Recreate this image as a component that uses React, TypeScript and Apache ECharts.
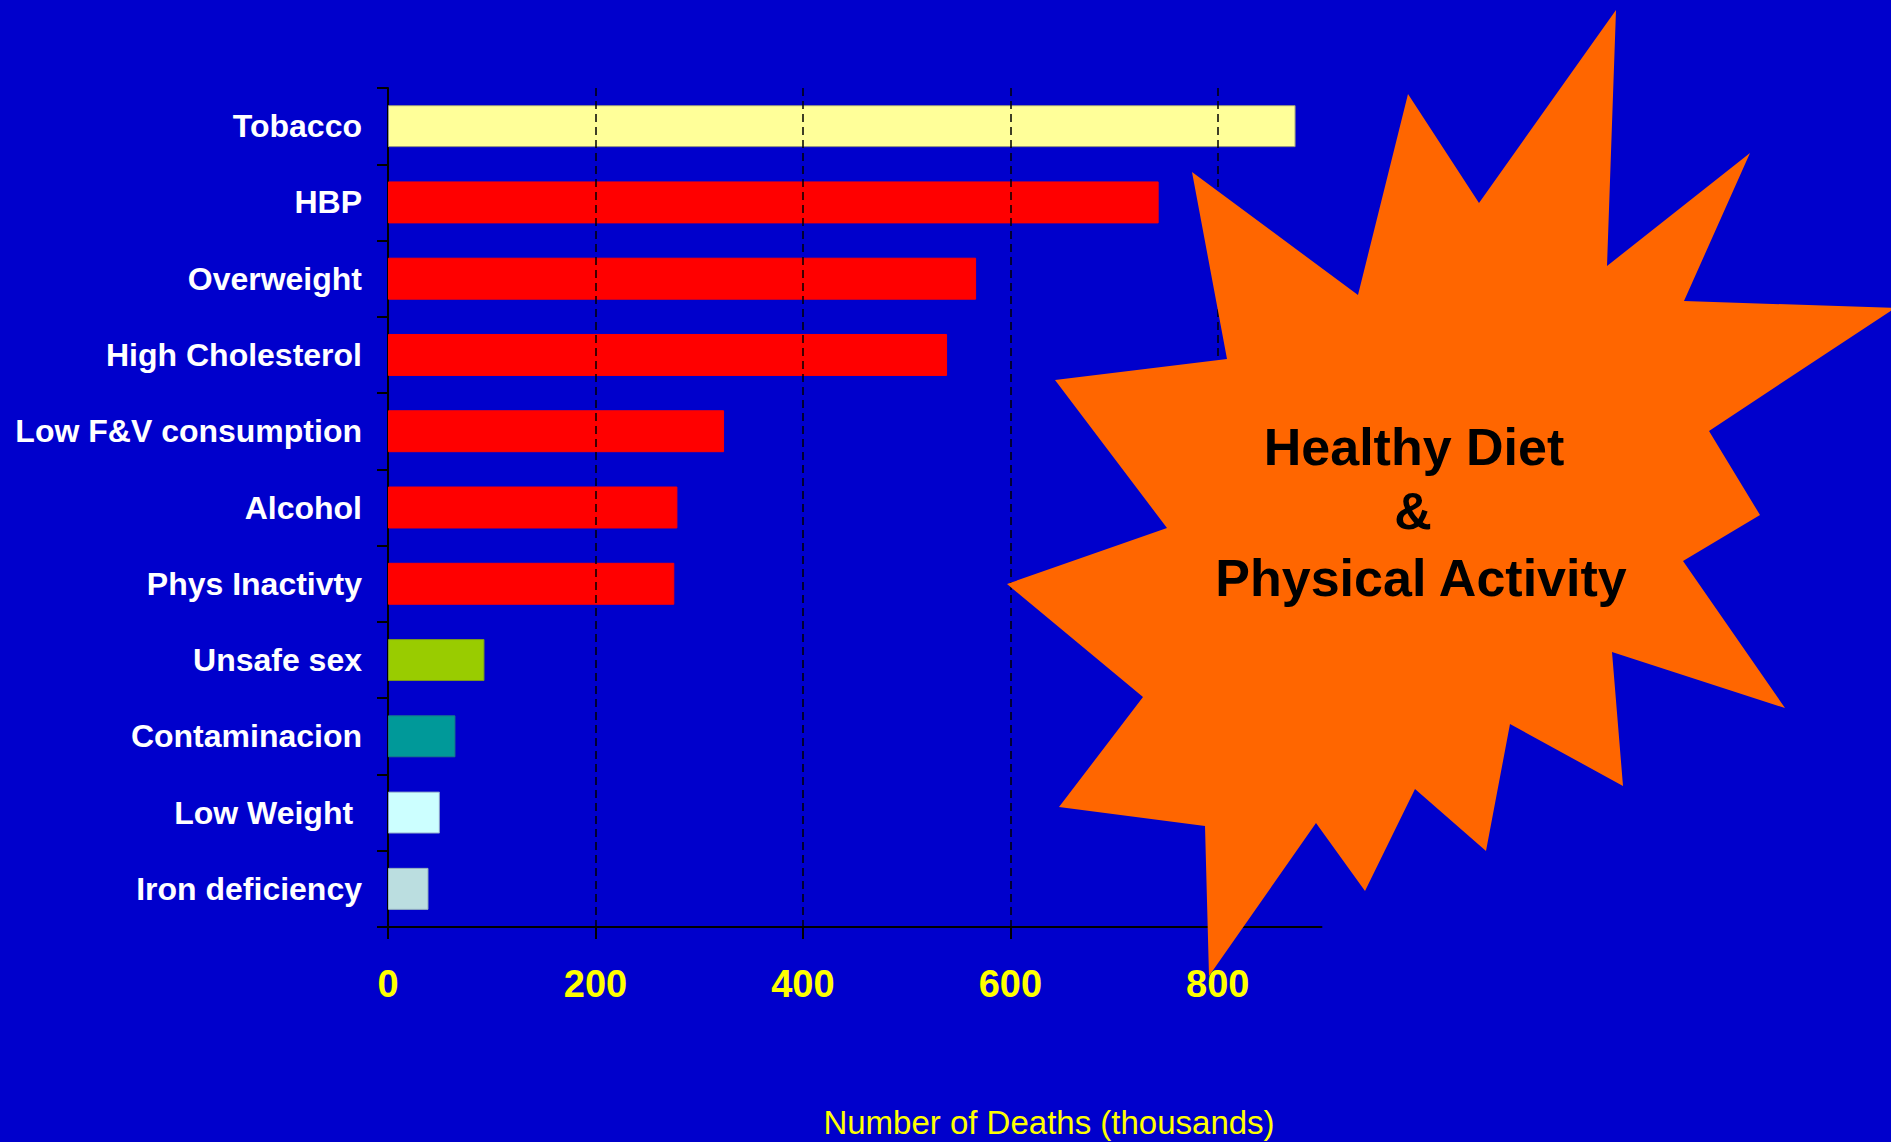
import React, { useEffect, useRef } from 'react';
import * as echarts from 'echarts';

const categories = [
  'Tobacco',
  'HBP',
  'Overweight',
  'High Cholesterol',
  'Low F&V consumption',
  'Alcohol',
  'Phys Inactivty',
  'Unsafe sex',
  'Contaminacion',
  'Low Weight ',
  'Iron deficiency',
];
const deaths = [875, 743, 567, 539, 324, 279, 276, 93, 65, 50, 39];
const barColors = [
  '#FFFF99', '#FF0000', '#FF0000', '#FF0000', '#FF0000', '#FF0000', '#FF0000',
  '#99CC00', '#009999', '#CCFFFF', '#BBDEE0',
];
const barBorders = [
  '#9a9a80', '#FF0000', '#FF0000', '#FF0000', '#FF0000', '#FF0000', '#FF0000',
  '#7a9a20', '#1a7a8a', '#8aa0c8', '#9ab8c0',
];
const xTickValues = [0, 200, 400, 600, 800];
const gridValues = [200, 400, 600, 800];
const axisTitle = 'Number of Deaths (thousands)';
const burstLines = ['Healthy Diet', '&', 'Physical Activity'];

// decorative starburst outline (pixel coordinates of the page)
const burstOutline = [
  [1616, 10], [1607, 266], [1750, 153], [1684, 301], [1895, 308], [1709, 431],
  [1760, 515], [1683, 561], [1785, 708], [1612, 652], [1623, 786], [1510, 724],
  [1486, 851], [1415, 789], [1365, 891], [1316, 823], [1209, 976], [1205, 826],
  [1059, 807], [1143, 697], [1007, 584], [1167, 528], [1055, 380], [1227, 359],
  [1192, 172], [1358, 295], [1408, 94], [1479, 203],
];
const burstTextPos = [[1414, 447], [1413, 511], [1421, 578]];

export default function App() {
  const ref = useRef<HTMLDivElement>(null);
  useEffect(() => {
    if (!ref.current) return;
    const chart = echarts.init(ref.current, null, { renderer: 'svg' });
    const font = '"Liberation Sans", Arial, sans-serif';
    chart.setOption({
      animation: false,
      backgroundColor: '#0000CC',
      grid: { left: 388, top: 88, width: 933.5, height: 839 },
      xAxis: {
        type: 'value',
        min: 0,
        max: 900,
        interval: 200,
        axisLine: { show: true, lineStyle: { color: '#000', width: 2 } },
        axisTick: {
          show: true,
          customValues: xTickValues,
          length: 12,
          lineStyle: { color: '#000', width: 2 },
        },
        axisLabel: {
          customValues: xTickValues,
          color: '#FFFF00',
          fontSize: 38,
          fontWeight: 'bold',
          fontFamily: font,
          margin: 38,
        },
        splitLine: { show: false },
      },
      yAxis: {
        type: 'category',
        inverse: true,
        data: categories,
        axisLine: { show: true, lineStyle: { color: '#000', width: 2 } },
        axisTick: { show: true, length: 11, lineStyle: { color: '#000', width: 2 } },
        axisLabel: {
          color: '#FFFFFF',
          fontSize: 32,
          fontWeight: 'bold',
          fontFamily: font,
          margin: 26,
          lineHeight: 34,
        },
        splitLine: { show: false },
      },
      series: [
        {
          type: 'line',
          data: [],
          z: 1,
          silent: true,
          markLine: {
            silent: true,
            symbol: 'none',
            label: { show: false },
            lineStyle: { color: '#000', type: [8, 5], width: 1.5 },
            data: gridValues.map((v) => ({ xAxis: v })),
          },
        },
        {
          type: 'bar',
          z: 3,
          barWidth: '55%',
          data: deaths.map((v, i) => ({
            value: v,
            itemStyle: { color: barColors[i], borderColor: barBorders[i], borderWidth: 1 },
          })),
        },
      ],
      graphic: [
        {
          type: 'polygon',
          z: 100,
          shape: { points: burstOutline },
          style: { fill: '#FF6600' },
        },
        ...burstLines.map((t, i) => ({
          type: 'text',
          z: 101,
          x: burstTextPos[i][0],
          y: burstTextPos[i][1],
          style: {
            text: t,
            fill: '#000',
            font: `bold 52px ${font}`,
            textAlign: 'center',
            align: 'center',
            textVerticalAlign: 'middle',
            verticalAlign: 'middle',
          },
        })),
        {
          type: 'text',
          z: 101,
          x: 1049,
          y: 1122,
          style: {
            text: axisTitle,
            fill: '#FFFF00',
            font: `33px ${font}`,
            textAlign: 'center',
            align: 'center',
            textVerticalAlign: 'middle',
            verticalAlign: 'middle',
          },
        },
      ],
    });
    return () => chart.dispose();
  }, []);
  return (
    <div
      ref={ref}
      style={{ position: 'fixed', left: 0, top: 0, width: 1891, height: 1142 }}
    />
  );
}
